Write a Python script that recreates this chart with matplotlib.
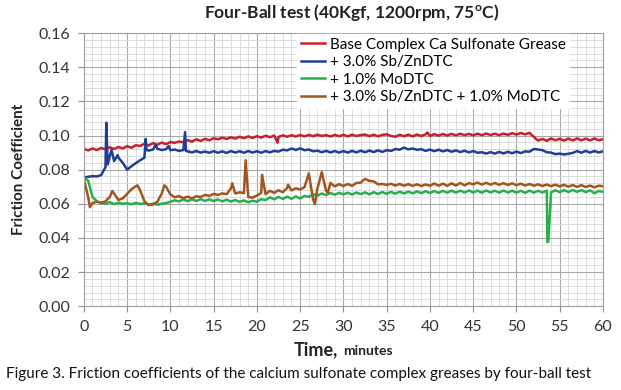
import numpy as np
import matplotlib
matplotlib.use('Agg')
import matplotlib.pyplot as plt
from matplotlib.ticker import MultipleLocator, FormatStrFormatter

plt.rcParams['font.family'] = ['Lato', 'DejaVu Sans']

# sampling grid of the recorder, every half minute (0 ... 60 min)
minutes = np.arange(0, 60.5, 0.5)

# Base Complex Ca Sulfonate Grease
base = [0.0922, 0.0913, 0.0924, 0.0915, 0.0927, 0.0918, 0.0931, 0.0921, 0.0933, 0.0924,
        0.0938, 0.0928, 0.0943, 0.0939, 0.0952, 0.0942, 0.0956, 0.0946, 0.0959, 0.0949,
        0.0962, 0.0957, 0.0965, 0.0961, 0.0973, 0.0964, 0.0978, 0.0968, 0.0981, 0.0972,
        0.0984, 0.0978, 0.0987, 0.0980, 0.0989, 0.0982, 0.0993, 0.0984, 0.0995, 0.0986,
        0.0996, 0.0988, 0.0999, 0.0990, 0.1000, 0.0992, 0.1001, 0.0993, 0.1002, 0.0994,
        0.1003, 0.0995, 0.1004, 0.0996, 0.1005, 0.0997, 0.1003, 0.0994, 0.1004, 0.0996,
        0.1004, 0.0995, 0.1005, 0.0997, 0.1003, 0.1006, 0.0996, 0.1005, 0.0995, 0.1004,
        0.1007, 0.0997, 0.0993, 0.1004, 0.0996, 0.1005, 0.0995, 0.1006, 0.0997, 0.1007,
        0.0998, 0.1008, 0.0999, 0.1009, 0.1000, 0.1010, 0.1001, 0.1011, 0.1002, 0.1010,
        0.1001, 0.1011, 0.1002, 0.1012, 0.1003, 0.1011, 0.1002, 0.1012, 0.1004, 0.1014,
        0.1005, 0.1015, 0.1007, 0.1016, 0.0992, 0.0970, 0.0980, 0.0969, 0.0983, 0.0972,
        0.0981, 0.0970, 0.0982, 0.0971, 0.0983, 0.0972, 0.0982, 0.0971, 0.0983, 0.0972,
        0.0978]
base_extra_t = [22.4, 39.7]
base_extra_v = [0.0958, 0.1018]

# + 3.0% Sb/ZnDTC
sbzn = [0.0755, 0.0758, 0.0762, 0.0760, 0.0768, 0.0815, 0.0880, 0.0850, 0.0870, 0.0840,
        0.0800, 0.0820, 0.0838, 0.0855, 0.0870, 0.0912, 0.0918, 0.0922, 0.0915, 0.0920,
        0.0914, 0.0918, 0.0910, 0.0915, 0.0907, 0.0901, 0.0909, 0.0900, 0.0906, 0.0899,
        0.0908, 0.0899, 0.0907, 0.0898, 0.0909, 0.0900, 0.0908, 0.0899, 0.0909, 0.0900,
        0.0908, 0.0899, 0.0909, 0.0901, 0.0910, 0.0906, 0.0917, 0.0913, 0.0924, 0.0915,
        0.0925, 0.0914, 0.0918, 0.0908, 0.0911, 0.0902, 0.0910, 0.0901, 0.0909, 0.0900,
        0.0909, 0.0900, 0.0910, 0.0901, 0.0911, 0.0902, 0.0912, 0.0903, 0.0913, 0.0904,
        0.0914, 0.0910, 0.0921, 0.0917, 0.0929, 0.0919, 0.0924, 0.0916, 0.0920, 0.0910,
        0.0918, 0.0908, 0.0917, 0.0907, 0.0915, 0.0905, 0.0913, 0.0903, 0.0911, 0.0901,
        0.0909, 0.0899, 0.0902, 0.0894, 0.0903, 0.0894, 0.0904, 0.0895, 0.0905, 0.0896,
        0.0906, 0.0897, 0.0907, 0.0905, 0.0921, 0.0918, 0.0914, 0.0902, 0.0900, 0.0891,
        0.0894, 0.0889, 0.0893, 0.0898, 0.0909, 0.0899, 0.0910, 0.0900, 0.0909, 0.0901,
        0.0907]
sbzn_extra_t = [2.6, 2.75, 3.2, 3.9, 7.15, 7.25, 8.3, 9.8, 11.7, 11.8]
sbzn_extra_v = [0.1075, 0.0830, 0.0915, 0.0885, 0.0980, 0.0915, 0.0945, 0.0938, 0.1020, 0.0910]

# + 1.0% MoDTC
modtc = [0.0755, 0.0735, 0.0640, 0.0615, 0.0605, 0.0600, 0.0610, 0.0598, 0.0606, 0.0600,
         0.0603, 0.0597, 0.0605, 0.0599, 0.0602, 0.0596, 0.0601, 0.0595, 0.0600, 0.0604,
         0.0612, 0.0620, 0.0614, 0.0625, 0.0615, 0.0626, 0.0616, 0.0627, 0.0617, 0.0626,
         0.0616, 0.0625, 0.0614, 0.0624, 0.0613, 0.0622, 0.0611, 0.0620, 0.0609, 0.0618,
         0.0612, 0.0627, 0.0622, 0.0638, 0.0626, 0.0641, 0.0628, 0.0642, 0.0629, 0.0643,
         0.0631, 0.0646, 0.0640, 0.0656, 0.0648, 0.0660, 0.0651, 0.0663, 0.0653, 0.0664,
         0.0655, 0.0665, 0.0654, 0.0666, 0.0656, 0.0667, 0.0655, 0.0668, 0.0657, 0.0669,
         0.0658, 0.0670, 0.0659, 0.0671, 0.0660, 0.0672, 0.0661, 0.0673, 0.0662, 0.0674,
         0.0663, 0.0675, 0.0664, 0.0676, 0.0665, 0.0677, 0.0665, 0.0677, 0.0666, 0.0678,
         0.0666, 0.0677, 0.0665, 0.0678, 0.0666, 0.0677, 0.0665, 0.0678, 0.0666, 0.0677,
         0.0665, 0.0676, 0.0664, 0.0677, 0.0665, 0.0676, 0.0666, 0.0677, 0.0667, 0.0679,
         0.0668, 0.0680, 0.0669, 0.0681, 0.0670, 0.0680, 0.0668, 0.0679, 0.0662, 0.0675,
         0.0670]
modtc_extra_t = [53.58, 53.68]
modtc_extra_v = [0.0375, 0.0378]

# + 3.0% Sb/ZnDTC + 1.0% MoDTC
combo = [0.0745, 0.0640, 0.0605, 0.0612, 0.0606, 0.0614, 0.0640, 0.0660, 0.0622, 0.0632,
         0.0658, 0.0685, 0.0702, 0.0680, 0.0615, 0.0592, 0.0596, 0.0612, 0.0660, 0.0700,
         0.0655, 0.0638, 0.0645, 0.0633, 0.0642, 0.0632, 0.0644, 0.0640, 0.0652, 0.0646,
         0.0658, 0.0652, 0.0661, 0.0656, 0.0690, 0.0660, 0.0667, 0.0662, 0.0640, 0.0636,
         0.0648, 0.0664, 0.0656, 0.0676, 0.0664, 0.0679, 0.0668, 0.0693, 0.0678, 0.0691,
         0.0684, 0.0697, 0.0778, 0.0625, 0.0690, 0.0785, 0.0675, 0.0722, 0.0702, 0.0715,
         0.0704, 0.0716, 0.0705, 0.0722, 0.0724, 0.0746, 0.0734, 0.0731, 0.0714, 0.0716,
         0.0711, 0.0717, 0.0707, 0.0716, 0.0706, 0.0715, 0.0705, 0.0714, 0.0704, 0.0713,
         0.0706, 0.0719, 0.0706, 0.0718, 0.0705, 0.0720, 0.0707, 0.0722, 0.0708, 0.0721,
         0.0714, 0.0724, 0.0713, 0.0723, 0.0712, 0.0722, 0.0711, 0.0721, 0.0710, 0.0720,
         0.0709, 0.0718, 0.0707, 0.0716, 0.0706, 0.0714, 0.0704, 0.0713, 0.0703, 0.0712,
         0.0702, 0.0711, 0.0700, 0.0710, 0.0699, 0.0709, 0.0698, 0.0707, 0.0696, 0.0706,
         0.0703]
combo_extra_t = [0.7, 3.3, 6.2, 9.3, 17.15, 18.7, 20.6, 23.6, 26.7, 28.2]
combo_extra_v = [0.0580, 0.0675, 0.0708, 0.0708, 0.0720, 0.0855, 0.0770, 0.0712, 0.0598, 0.0665]

labels = ['Base Complex Ca Sulfonate Grease', '+ 3.0% Sb/ZnDTC',
          '+ 1.0% MoDTC', '+ 3.0% Sb/ZnDTC + 1.0% MoDTC']
colors = ['#C8202C', '#203E95', '#29AE4C', '#A4541E']


def merge(vals, extra_t, extra_v):
    t = np.concatenate([minutes, extra_t])
    v = np.concatenate([vals, extra_v])
    order = np.argsort(t, kind='stable')
    return t[order], v[order]


series = [
    merge(base, base_extra_t, base_extra_v),
    merge(sbzn, sbzn_extra_t, sbzn_extra_v),
    merge(modtc, modtc_extra_t, modtc_extra_v),
    merge(combo, combo_extra_t, combo_extra_v),
]

fig = plt.figure(figsize=(6.21, 3.9), dpi=100)
ax = fig.add_axes([0.135, 0.215, 0.836, 0.70])

for (t, v), lab, c in zip(series, labels, colors):
    ax.plot(t, v, color=c, lw=1.8, label=lab)

ax.set_xlim(0, 60)
ax.set_ylim(0, 0.16)
ax.xaxis.set_major_locator(MultipleLocator(5))
ax.xaxis.set_minor_locator(MultipleLocator(1))
ax.yaxis.set_major_locator(MultipleLocator(0.02))
ax.yaxis.set_minor_locator(MultipleLocator(0.004))
ax.yaxis.set_major_formatter(FormatStrFormatter('%.2f'))
ax.grid(which='major', color='#a8a8a8', lw=0.8)
ax.grid(which='minor', color='#d8d8d8', lw=0.6)
ax.set_axisbelow(True)
ax.tick_params(which='major', direction='out', length=4, color='#909090',
               labelsize=11.5, labelcolor='#333333', pad=6)
ax.tick_params(which='minor', length=0)
for s in ax.spines.values():
    s.set_color('#a0a0a0')
    s.set_linewidth(0.8)

leg = ax.legend(loc='upper left', bbox_to_anchor=(0.41, 0.997), borderaxespad=0,
                fontsize=11, frameon=True, fancybox=False, handlelength=1.6,
                handletextpad=0.3, labelspacing=0.22, borderpad=0.25)
leg.get_frame().set_facecolor('white')
leg.get_frame().set_edgecolor('white')
leg.get_frame().set_alpha(1)

fig.text(0.567, 0.968, 'Four-Ball test (40Kgf, 1200rpm, 75$^\\mathregular{o}$C)',
         ha='center', va='center', fontsize=12.5, fontweight='bold', color='#222222')
ax.set_ylabel('Friction Coefficient', fontsize=11, fontweight='bold', color='#222222')
ax.yaxis.set_label_coords(-0.112, 0.5)
fig.text(0.544, 0.09, 'Time,', ha='right', va='baseline', fontsize=13,
         fontweight='bold', color='#222222')
fig.text(0.553, 0.09, 'minutes', ha='left', va='baseline', fontsize=10,
         fontweight='bold', color='#222222')
fig.text(0.48, 0.032, 'Figure 3. Friction coefficients of the calcium sulfonate complex greases by four-ball test',
         ha='center', va='baseline', fontsize=11, color='#111111')

fig.savefig('out.png', dpi=100)
